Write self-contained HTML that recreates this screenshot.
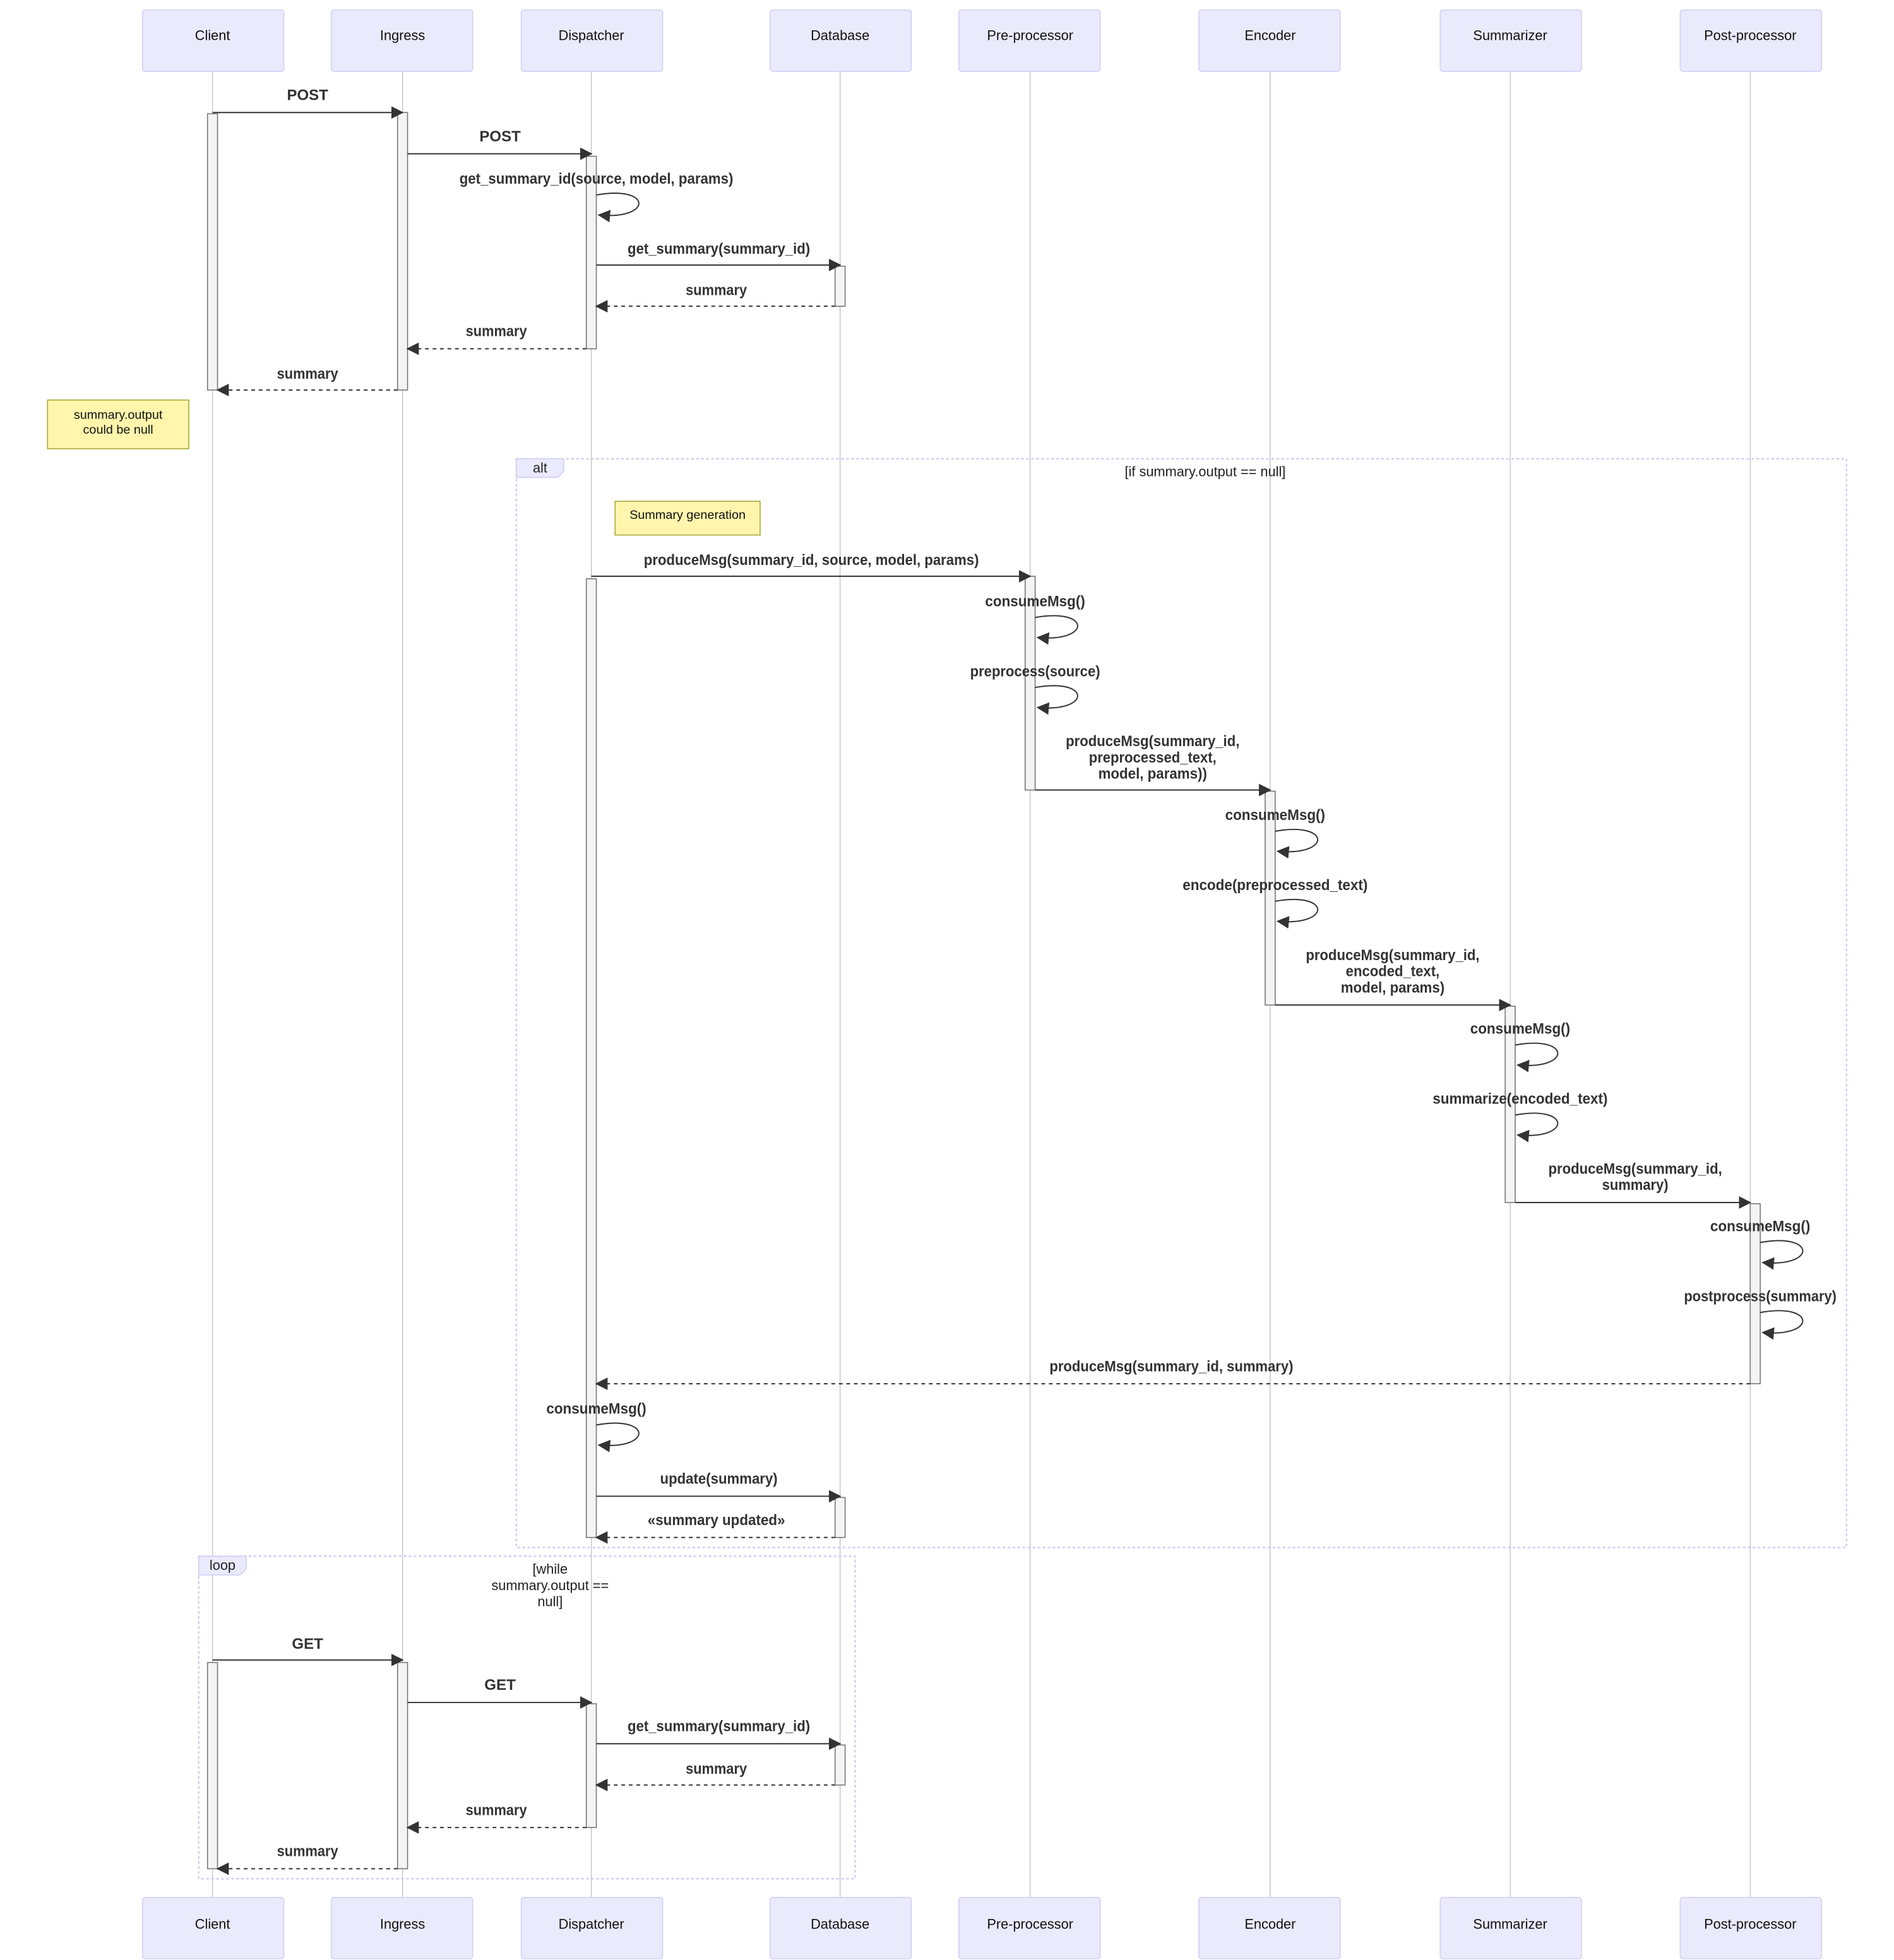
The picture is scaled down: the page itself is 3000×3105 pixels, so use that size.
<!DOCTYPE html>
<html><head><meta charset="utf-8"><style>html,body{margin:0;padding:0;background:#fff}svg{display:block}</style></head>
<body>
<svg width="3000" height="3105" viewBox="0 0 1515 1568" xmlns="http://www.w3.org/2000/svg" font-family="Liberation Sans, Arial, sans-serif">
<defs>
<marker id="ah" markerUnits="userSpaceOnUse" markerWidth="10" markerHeight="10" refX="9" refY="5" orient="auto"><path d="M0,0 L10,5 L0,10 z" fill="#333"/></marker>
</defs>
<rect width="1515" height="1568" fill="#fff"/>
<!-- lifelines -->
<g stroke="#bbb" stroke-width="0.6">
<line x1="170" y1="57" x2="170" y2="1518"/><line x1="322" y1="57" x2="322" y2="1518"/><line x1="473" y1="57" x2="473" y2="1518"/><line x1="672" y1="57" x2="672" y2="1518"/><line x1="824" y1="57" x2="824" y2="1518"/><line x1="1016" y1="57" x2="1016" y2="1518"/><line x1="1208" y1="57" x2="1208" y2="1518"/><line x1="1400" y1="57" x2="1400" y2="1518"/>
</g>
<!-- actors -->
<g fill="#eaeafd" stroke="#d4cdf5" stroke-width="0.8">
<rect x="114" y="8" width="113" height="49" rx="2"/><rect x="265" y="8" width="113" height="49" rx="2"/><rect x="417" y="8" width="113" height="49" rx="2"/><rect x="616" y="8" width="113" height="49" rx="2"/><rect x="767" y="8" width="113" height="49" rx="2"/><rect x="959" y="8" width="113" height="49" rx="2"/><rect x="1152" y="8" width="113" height="49" rx="2"/><rect x="1344" y="8" width="113" height="49" rx="2"/>
<rect x="114" y="1518" width="113" height="49" rx="2"/><rect x="265" y="1518" width="113" height="49" rx="2"/><rect x="417" y="1518" width="113" height="49" rx="2"/><rect x="616" y="1518" width="113" height="49" rx="2"/><rect x="767" y="1518" width="113" height="49" rx="2"/><rect x="959" y="1518" width="113" height="49" rx="2"/><rect x="1152" y="1518" width="113" height="49" rx="2"/><rect x="1344" y="1518" width="113" height="49" rx="2"/>
</g>
<g font-size="11" fill="#111" text-anchor="middle">
<text x="170" y="32">Client</text><text x="322" y="32">Ingress</text><text x="473" y="32">Dispatcher</text><text x="672" y="32">Database</text><text x="824" y="32">Pre-processor</text><text x="1016" y="32">Encoder</text><text x="1208" y="32">Summarizer</text><text x="1400" y="32">Post-processor</text>
<text x="170" y="1543">Client</text><text x="322" y="1543">Ingress</text><text x="473" y="1543">Dispatcher</text><text x="672" y="1543">Database</text><text x="824" y="1543">Pre-processor</text><text x="1016" y="1543">Encoder</text><text x="1208" y="1543">Summarizer</text><text x="1400" y="1543">Post-processor</text>
</g>
<!-- frames -->
<g fill="none" stroke="#cfc8f2" stroke-width="1.2" stroke-dasharray="2,2">
<rect x="413" y="367" width="1064" height="871"/>
<rect x="159" y="1245" width="525" height="258"/>
</g>
<path d="M413,367 H451 V377 L446,382 H413 Z" fill="#eaeafd" stroke="#d4cdf5" stroke-width="0.8"/>
<path d="M159,1245 H197 V1255 L192,1260 H159 Z" fill="#eaeafd" stroke="#d4cdf5" stroke-width="0.8"/>
<g font-size="11" fill="#222" text-anchor="middle">
<text x="432" y="378">alt</text><text x="178" y="1256">loop</text>
<text x="964" y="381">[if summary.output == null]</text>
<text x="440" y="1259">[while</text><text x="440" y="1272">summary.output ==</text><text x="440" y="1285">null]</text>
</g>
<!-- notes -->
<rect x="38" y="320" width="113" height="39" fill="#fff5ad" stroke="#aaaa33" stroke-width="0.8"/>
<text x="94.5" y="335" font-size="10" text-anchor="middle" fill="#111">summary.output</text>
<text x="94.5" y="347" font-size="10" text-anchor="middle" fill="#111">could be null</text>
<rect x="492" y="401" width="116" height="27" fill="#fff5ad" stroke="#aaaa33" stroke-width="0.8"/>
<text x="550" y="415" font-size="10" text-anchor="middle" fill="#111">Summary generation</text>
<!-- activations -->
<g fill="#f4f4f4" stroke="#777" stroke-width="0.8">
<rect x="166" y="91" width="8" height="221"/><rect x="318" y="90" width="8" height="222"/><rect x="469" y="125" width="8" height="154"/><rect x="668" y="213" width="8" height="32"/>
<rect x="469" y="463" width="8" height="767"/><rect x="820" y="461" width="8" height="171"/><rect x="1012" y="633" width="8" height="171"/><rect x="1204" y="805" width="8" height="157"/><rect x="1400" y="963" width="8" height="144"/><rect x="668" y="1198" width="8" height="32"/>
<rect x="166" y="1330" width="8" height="165"/><rect x="318" y="1330" width="8" height="165"/><rect x="469" y="1363" width="8" height="99"/><rect x="668" y="1396" width="8" height="32"/>
</g>
<!-- messages -->
<g stroke="#333" stroke-width="1" fill="none" marker-end="url(#ah)">
<line x1="170" y1="90" x2="322" y2="90"/>
<line x1="326" y1="123" x2="473" y2="123"/>
<path d="M477,156 C522,148 522,176 479,172"/>
<line x1="477" y1="212" x2="672" y2="212"/>
<line x1="668" y1="245" x2="477" y2="245" stroke-dasharray="3,3"/>
<line x1="469" y1="279" x2="326" y2="279" stroke-dasharray="3,3"/>
<line x1="318" y1="312" x2="174" y2="312" stroke-dasharray="3,3"/>
<line x1="473" y1="461" x2="824" y2="461"/>
<path d="M828,494 C873,486 873,514 830,510"/>
<path d="M828,550 C873,542 873,570 830,566"/>
<line x1="828" y1="632" x2="1016" y2="632"/>
<path d="M1020,665 C1065,657 1065,685 1022,681"/>
<path d="M1020,721 C1065,713 1065,741 1022,737"/>
<line x1="1020" y1="804" x2="1208" y2="804"/>
<path d="M1212,836 C1257,828 1257,856 1214,852"/>
<path d="M1212,892 C1257,884 1257,912 1214,908"/>
<line x1="1212" y1="962" x2="1400" y2="962"/>
<path d="M1408,994 C1453,986 1453,1014 1410,1010"/>
<path d="M1408,1050 C1453,1042 1453,1070 1410,1066"/>
<line x1="1400" y1="1107" x2="477" y2="1107" stroke-dasharray="3,3"/>
<path d="M477,1140 C522,1132 522,1160 479,1156"/>
<line x1="477" y1="1197" x2="672" y2="1197"/>
<line x1="668" y1="1230" x2="477" y2="1230" stroke-dasharray="3,3"/>
<line x1="170" y1="1328" x2="322" y2="1328"/>
<line x1="326" y1="1362" x2="473" y2="1362"/>
<line x1="477" y1="1395" x2="672" y2="1395"/>
<line x1="668" y1="1428" x2="477" y2="1428" stroke-dasharray="3,3"/>
<line x1="469" y1="1462" x2="326" y2="1462" stroke-dasharray="3,3"/>
<line x1="318" y1="1495" x2="174" y2="1495" stroke-dasharray="3,3"/>
</g>
<g font-size="12" font-weight="bold" fill="#333" text-anchor="middle" lengthAdjust="spacingAndGlyphs">
<text x="246" y="80" textLength="33" lengthAdjust="spacingAndGlyphs">POST</text>
<text x="400" y="113" textLength="33" lengthAdjust="spacingAndGlyphs">POST</text>
<text x="477" y="147" textLength="219" lengthAdjust="spacingAndGlyphs">get_summary_id(source, model, params)</text>
<text x="575" y="203" textLength="146" lengthAdjust="spacingAndGlyphs">get_summary(summary_id)</text>
<text x="573" y="236" textLength="49" lengthAdjust="spacingAndGlyphs">summary</text>
<text x="397" y="269" textLength="49" lengthAdjust="spacingAndGlyphs">summary</text>
<text x="246" y="303" textLength="49" lengthAdjust="spacingAndGlyphs">summary</text>
<text x="649" y="452" textLength="268" lengthAdjust="spacingAndGlyphs">produceMsg(summary_id, source, model, params)</text>
<text x="828" y="485" textLength="80" lengthAdjust="spacingAndGlyphs">consumeMsg()</text>
<text x="828" y="541" textLength="104" lengthAdjust="spacingAndGlyphs">preprocess(source)</text>
<text x="922" y="597" textLength="139" lengthAdjust="spacingAndGlyphs">produceMsg(summary_id,</text>
<text x="922" y="610" textLength="102" lengthAdjust="spacingAndGlyphs">preprocessed_text,</text>
<text x="922" y="623" textLength="87" lengthAdjust="spacingAndGlyphs">model, params))</text>
<text x="1020" y="656" textLength="80" lengthAdjust="spacingAndGlyphs">consumeMsg()</text>
<text x="1020" y="712" textLength="148" lengthAdjust="spacingAndGlyphs">encode(preprocessed_text)</text>
<text x="1114" y="768" textLength="139" lengthAdjust="spacingAndGlyphs">produceMsg(summary_id,</text>
<text x="1114" y="781" textLength="75" lengthAdjust="spacingAndGlyphs">encoded_text,</text>
<text x="1114" y="794" textLength="83" lengthAdjust="spacingAndGlyphs">model, params)</text>
<text x="1216" y="827" textLength="80" lengthAdjust="spacingAndGlyphs">consumeMsg()</text>
<text x="1216" y="883" textLength="140" lengthAdjust="spacingAndGlyphs">summarize(encoded_text)</text>
<text x="1308" y="939" textLength="139" lengthAdjust="spacingAndGlyphs">produceMsg(summary_id,</text>
<text x="1308" y="952" textLength="53" lengthAdjust="spacingAndGlyphs">summary)</text>
<text x="1408" y="985" textLength="80" lengthAdjust="spacingAndGlyphs">consumeMsg()</text>
<text x="1408" y="1041" textLength="122" lengthAdjust="spacingAndGlyphs">postprocess(summary)</text>
<text x="937" y="1097" textLength="195" lengthAdjust="spacingAndGlyphs">produceMsg(summary_id, summary)</text>
<text x="477" y="1131" textLength="80" lengthAdjust="spacingAndGlyphs">consumeMsg()</text>
<text x="575" y="1187" textLength="94" lengthAdjust="spacingAndGlyphs">update(summary)</text>
<text x="573" y="1220" textLength="110" lengthAdjust="spacingAndGlyphs">«summary updated»</text>
<text x="246" y="1319" textLength="25" lengthAdjust="spacingAndGlyphs">GET</text>
<text x="400" y="1352" textLength="25" lengthAdjust="spacingAndGlyphs">GET</text>
<text x="575" y="1385" textLength="146" lengthAdjust="spacingAndGlyphs">get_summary(summary_id)</text>
<text x="573" y="1419" textLength="49" lengthAdjust="spacingAndGlyphs">summary</text>
<text x="397" y="1452" textLength="49" lengthAdjust="spacingAndGlyphs">summary</text>
<text x="246" y="1485" textLength="49" lengthAdjust="spacingAndGlyphs">summary</text>
</g>
</svg>
</body></html>
